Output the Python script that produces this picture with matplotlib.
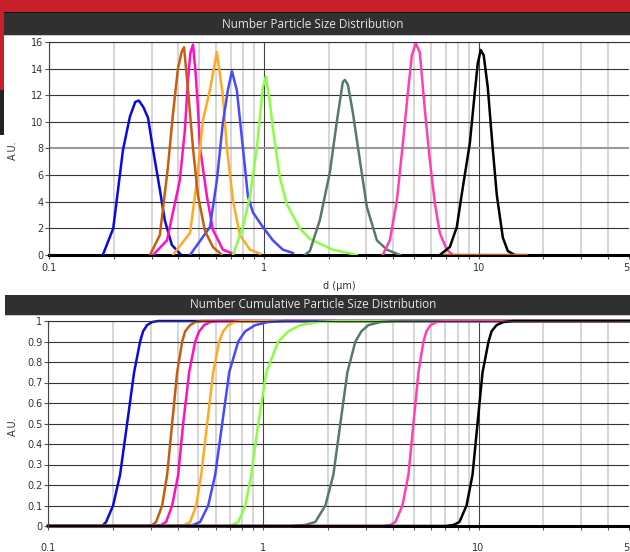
import numpy as np
import matplotlib.pyplot as plt
from matplotlib.patches import Rectangle
from matplotlib.ticker import LogLocator, NullFormatter, FixedLocator

# number distribution (d in um, A.U.)
blue_d = [0.178, 0.199, 0.221, 0.238, 0.252, 0.262, 0.275, 0.289, 0.305, 0.328, 0.346, 0.373, 0.407]
blue_n = [0.0, 2.0, 7.9, 10.4, 11.5, 11.6, 11.1, 10.3, 7.9, 4.9, 2.6, 0.75, 0.1]
brown_d = [0.295, 0.328, 0.357, 0.377, 0.398, 0.415, 0.425, 0.443, 0.468, 0.493, 0.532, 0.579, 0.638, np.nan, 6.9, 16.7]
brown_n = [0.0, 1.5, 6.5, 10.5, 14.0, 15.3, 15.6, 12.5, 8.0, 4.5, 1.8, 0.6, 0.0, np.nan, 0.0, 0.0]
magenta_d = [0.305, 0.354, 0.406, 0.429, 0.443, 0.455, 0.468, 0.482, 0.493, 0.504, 0.543, 0.579, 0.644, 0.718]
magenta_n = [0.0, 1.1, 5.6, 9.4, 13.1, 15.2, 15.8, 13.5, 11.1, 8.1, 4.4, 1.9, 0.4, 0.1]
orange_d = [0.377, 0.453, 0.488, 0.520, 0.561, 0.604, 0.644, 0.673, 0.718, 0.773, 0.861, 0.958]
orange_n = [0.0, 1.65, 5.6, 10.1, 12.4, 15.25, 12.0, 8.0, 4.1, 1.5, 0.4, 0.1]
royal_d = [0.453, 0.561, 0.604, 0.644, 0.680, 0.710, 0.748, 0.798, 0.843, 0.889, 0.989, 1.101, 1.225, 1.364]
royal_n = [0.0, 2.1, 5.6, 9.9, 12.4, 13.8, 12.4, 8.1, 4.4, 3.2, 2.1, 1.1, 0.4, 0.15]
green_d = [0.718, 0.798, 0.861, 0.928, 0.989, 1.021, 1.066, 1.101, 1.187, 1.279, 1.469, 1.636, 2.094, 2.710]
green_n = [0.0, 2.1, 4.4, 8.1, 12.6, 13.4, 11.5, 9.5, 5.8, 3.8, 2.0, 1.2, 0.4, 0.0]
grey_d = [1.552, 1.636, 1.820, 2.027, 2.188, 2.329, 2.381, 2.459, 2.594, 2.797, 3.015, 3.357, 3.734, 4.295]
grey_n = [0.0, 0.3, 2.6, 6.2, 10.1, 13.0, 13.15, 12.8, 10.7, 7.1, 3.6, 1.1, 0.4, 0.0]
pink_d = [3.573, 3.855, 4.157, 4.434, 4.677, 4.881, 5.093, 5.317, 5.610, 5.918, 6.243, 6.586, 7.096, 7.568]
pink_n = [0.0, 1.1, 4.1, 8.4, 12.2, 15.0, 15.9, 15.2, 10.9, 7.1, 3.9, 1.65, 0.4, 0.0]
black_d = [6.586, 7.331, 7.900, 8.430, 9.085, 9.578, 9.891, 10.21, 10.54, 11.01, 11.61, 12.13, 12.94, 13.65, 14.70]
black_n = [0.0, 0.6, 2.1, 5.1, 8.4, 12.2, 14.4, 15.4, 15.0, 12.6, 8.0, 4.5, 1.3, 0.3, 0.0]

# cumulative distribution
cum_frac = [0.0, 0.0, 0.005, 0.02, 0.1, 0.25, 0.5, 0.75, 0.9, 0.95, 0.98, 0.995, 1.0, 1.0]
blue_cd = [0.1, 0.1746, 0.1803, 0.1862, 0.2006, 0.2162, 0.2331, 0.2512, 0.2679, 0.2766, 0.2887, 0.3046, 0.3248, 50]
brown_cd = [0.1, 0.2918, 0.3046, 0.3179, 0.3390, 0.3577, 0.3773, 0.3981, 0.4201, 0.4338, 0.4576, 0.4827, 0.5203, 50]
magenta_cd = [0.1, 0.3145, 0.3354, 0.3538, 0.3773, 0.4024, 0.4246, 0.4526, 0.4827, 0.5039, 0.5316, 0.5669, 0.6176, 50]
orange_cd = [0.1, 0.4024, 0.4292, 0.4576, 0.4879, 0.5148, 0.5490, 0.5853, 0.6242, 0.6516, 0.6873, 0.7332, 0.7988, 50]
royal_cd = [0.1, 0.4338, 0.4725, 0.5093, 0.5549, 0.5980, 0.6447, 0.6948, 0.7652, 0.8248, 0.9180, 1.055, 1.266, 50]
green_cd = [0.1, 0.6658, 0.7176, 0.7652, 0.8248, 0.8795, 0.9478, 1.033, 1.174, 1.307, 1.486, 1.803, 2.281, 50]
grey_cd = [0.1, 1.336, 1.568, 1.746, 1.943, 2.117, 2.281, 2.459, 2.679, 2.857, 3.079, 3.501, 4.111, 50]
pink_cd = [0.1, 3.615, 3.897, 4.111, 4.431, 4.725, 4.985, 5.259, 5.548, 5.730, 5.980, 6.378, 7.023, 50]
black_cd = [0.1, 7.023, 7.652, 8.156, 8.797, 9.378, 9.892, 10.44, 11.13, 11.50, 12.13, 13.07, 14.39, 50]

colors = ['#0a0ae0', '#c55f0f', '#ff10c0', '#ffaa22', '#4848ff',
          '#88ff44', '#567a68', '#ff40b4', '#000000']
dist = [(blue_d, blue_n), (magenta_d, magenta_n), (orange_d, orange_n),
        (royal_d, royal_n), (green_d, green_n), (grey_d, grey_n),
        (pink_d, pink_n), (black_d, black_n), (brown_d, brown_n)]
dist_colors = [colors[0], colors[2], colors[3], colors[4], colors[5],
               colors[6], colors[7], colors[8], colors[1]]
cums = [blue_cd, brown_cd, magenta_cd, orange_cd, royal_cd, green_cd, grey_cd, pink_cd, black_cd]

W, H = 630, 552
fig = plt.figure(figsize=(6.3, 5.52), dpi=100)
fig.patch.set_facecolor('white')


def box(x0, y0, x1, y1, c):
    fig.add_artist(Rectangle((x0 / W, 1 - y1 / H), (x1 - x0) / W, (y1 - y0) / H,
                             transform=fig.transFigure, color=c, lw=0, zorder=0))


box(0, 0, W, 12, '#c8202a')
box(0, 12, W, 13, '#111111')
box(4, 13, W, 35, '#303030')
box(4, 35, W, 36, '#c8c8d8')
box(0, 12, 4, 90, '#c8202a')
box(0, 90, 4, 135, '#222222')
box(5, 295, W, 315, '#303030')
box(5, 315, W, 316, '#c8c8d8')

fig.text(313 / W, 1 - 24 / H, 'Number Particle Size Distribution', color='#e6e6e6',
         fontsize=8.5, family='Open Sans', ha='center', va='center')
fig.text(313 / W, 1 - 305 / H, 'Number Cumulative Particle Size Distribution', color='#e6e6e6',
         fontsize=8.5, family='Open Sans', ha='center', va='center')

ax1 = fig.add_axes([49 / W, 1 - 255 / H, 580 / W, 213 / H])
ax2 = fig.add_axes([48 / W, 1 - 526 / H, 581 / W, 205 / H])


def style(ax, yticks, ylabels, pad):
    ax.set_xscale('log')
    ax.set_xlim(0.1, 50)
    ax.xaxis.set_major_locator(FixedLocator([0.1, 1, 10, 50]))
    ax.set_xticklabels(['0.1', '1', '10', '50'])
    ax.xaxis.set_minor_locator(LogLocator(base=10, subs=np.arange(2, 10)))
    ax.xaxis.set_minor_formatter(NullFormatter())
    ax.set_yticks(yticks)
    ax.set_yticklabels(ylabels)
    ax.set_ylim(yticks[0], yticks[-1])
    ax.tick_params(axis='both', which='both', direction='out', length=3, width=0.8,
                   color='#555555', labelsize=7, labelcolor='#333333')
    ax.tick_params(axis='x', pad=pad)
    ax.tick_params(axis='y', pad=1)
    ax.grid(True, which='minor', axis='x', color='#cfcfcf', lw=1.2)
    ax.grid(True, which='major', axis='x', color='#444444', lw=0.8)
    ax.grid(True, which='major', axis='y', color='#333333', lw=0.8)
    ax.get_xgridlines()[-1].set_visible(False)
    ax.set_axisbelow(True)
    ax.spines['right'].set_visible(False)
    ax.spines['top'].set_color('#333333')
    ax.spines['top'].set_linewidth(0.8)
    ax.spines['left'].set_color('#444444')
    ax.spines['left'].set_linewidth(0.8)
    ax.spines['bottom'].set_color('#000000')
    ax.spines['bottom'].set_linewidth(2.2)
    ax.spines['bottom'].set_zorder(1.5)


style(ax1, list(range(0, 17, 2)), [str(v) for v in range(0, 17, 2)], 3)
ylab = ['0'] + ['0.%d' % i for i in range(1, 10)] + ['1']
style(ax2, [i / 10 for i in range(11)], ylab, 9)
ax1.get_ygridlines()[4].set_color('#9a9a9a')
ax1.get_ygridlines()[4].set_linewidth(1.5)

for (d, n), c in zip(dist, dist_colors):
    ax1.plot(d, n, color=c, lw=1.8, solid_joinstyle='round', zorder=2)
for d, c in zip(cums, colors):
    ax2.plot(d, cum_frac, color=c, lw=1.8, solid_joinstyle='round', zorder=2, clip_on=False)

fig.text(339 / W, 1 - 286 / H, 'd (µm)', fontsize=7, color='#333333', ha='center', va='center')
fig.text(13 / W, 1 - 150 / H, 'A.U.', fontsize=7, color='#333333', rotation=90, ha='center', va='center')
fig.text(13 / W, 1 - 426 / H, 'A.U.', fontsize=7, color='#333333', rotation=90, ha='center', va='center')

fig.savefig('out.png', dpi=100)
